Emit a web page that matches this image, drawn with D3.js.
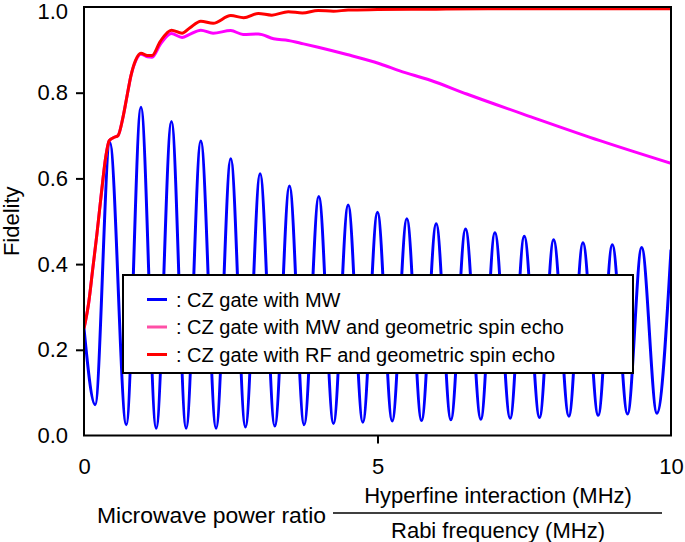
<!DOCTYPE html>
<html>
<head>
<meta charset="utf-8">
<script src="https://cdn.jsdelivr.net/npm/d3@7"></script>
<style>
  html, body { margin: 0; padding: 0; background: #fff; }
  svg { display: block; font-family: "Liberation Sans", Arial, Helvetica, sans-serif; }
</style>
</head>
<body>
<svg id="chart" width="685" height="542"></svg>
<script>
// ---- Data ----
// Blue: CZ gate with MW (extrema of the oscillation)
const blueX = [0, 0.19, 0.44, 0.72, 0.97, 1.23, 1.49, 1.74, 1.99, 2.25, 2.5, 2.75, 3.0, 3.25, 3.5, 3.75, 4.0, 4.25, 4.5, 4.75, 5.0, 5.25, 5.5, 5.75, 6.0, 6.25, 6.5, 6.76, 7.0, 7.26, 7.5, 7.76, 8.0, 8.26, 8.5, 8.76, 9.0, 9.26, 9.5, 9.76, 10.0];
const blueY = [0.25, 0.072, 0.684, 0.025, 0.766, 0.017, 0.733, 0.017, 0.687, 0.017, 0.646, 0.020, 0.611, 0.022, 0.582, 0.025, 0.558, 0.028, 0.538, 0.031, 0.521, 0.034, 0.506, 0.035, 0.494, 0.037, 0.482, 0.038, 0.473, 0.040, 0.465, 0.042, 0.457, 0.045, 0.450, 0.047, 0.445, 0.050, 0.439, 0.052, 0.434];

// Magenta: CZ gate with MW and geometric spin echo
const pinkX = [0, 0.08, 0.15, 0.22, 0.30, 0.37, 0.43, 0.50, 0.58, 0.66, 0.73, 0.80, 0.88, 0.97, 1.08, 1.16, 1.30, 1.49, 1.67, 1.80, 1.99, 2.20, 2.50, 2.71, 2.97, 3.23, 3.48, 3.74, 3.99, 4.48, 5.05, 5.38, 5.90, 6.52, 7.65, 8.79, 10.0];
const pinkY = [0.25, 0.31, 0.39, 0.47, 0.57, 0.65, 0.688, 0.695, 0.700, 0.740, 0.790, 0.840, 0.874, 0.890, 0.884, 0.883, 0.913, 0.938, 0.929, 0.936, 0.946, 0.939, 0.945, 0.936, 0.937, 0.926, 0.922, 0.914, 0.906, 0.889, 0.867, 0.851, 0.829, 0.797, 0.742, 0.688, 0.635];

// Red: CZ gate with RF and geometric spin echo
const redX = [0, 0.08, 0.15, 0.22, 0.30, 0.37, 0.43, 0.50, 0.58, 0.66, 0.73, 0.80, 0.88, 0.97, 1.08, 1.16, 1.30, 1.49, 1.67, 1.80, 1.99, 2.20, 2.50, 2.72, 2.97, 3.20, 3.48, 3.72, 3.99, 4.25, 4.50, 5.0, 6.0, 7.0, 8.0, 9.0, 10.0];
const redY = [0.25, 0.31, 0.39, 0.47, 0.57, 0.65, 0.688, 0.695, 0.700, 0.740, 0.790, 0.840, 0.876, 0.892, 0.887, 0.887, 0.920, 0.946, 0.939, 0.951, 0.967, 0.962, 0.980, 0.975, 0.985, 0.981, 0.989, 0.986, 0.992, 0.990, 0.993, 0.994, 0.995, 0.996, 0.996, 0.996, 0.996];

const xTicks = [0, 5, 10];
const xTickLabels = ["0", "5", "10"];
const yTicks = [0.0, 0.2, 0.4, 0.6, 0.8, 1.0];
const yTickLabels = ["0.0", "0.2", "0.4", "0.6", "0.8", "1.0"];

const seriesNames = [": CZ gate with MW", ": CZ gate with MW and geometric spin echo", ": CZ gate with RF and geometric spin echo"];
const seriesColors = ["#0000ff", "#ff00ff", "#ff0000"];
const legendColors = ["#0000ff", "#ff4fa6", "#ff0000"];

// ---- Layout ----
const svg = d3.select("#chart");
const L = 84, R = 671, T = 7, B = 435.5;
const FS = 22;
const x = d3.scaleLinear().domain([0, 10]).range([L, R]);
const y = d3.scaleLinear().domain([0, 1]).range([B, T]);

svg.append("defs").append("clipPath").attr("id", "plotclip")
  .append("rect").attr("x", L).attr("y", T - 3).attr("width", R - L).attr("height", B - T + 3);

const line = d3.line().x(d => x(d[0])).y(d => y(d[1])).curve(d3.curveMonotoneX);
const zip = (a, b) => a.map((v, i) => [v, b[i]]);

const plot = svg.append("g").attr("clip-path", "url(#plotclip)");
plot.append("path").datum(zip(blueX, blueY)).attr("d", line)
  .attr("fill", "none").attr("stroke", seriesColors[0]).attr("stroke-width", 3);
plot.append("path").datum(zip(pinkX, pinkY)).attr("d", line)
  .attr("fill", "none").attr("stroke", seriesColors[1]).attr("stroke-width", 3);
plot.append("path").datum(zip(redX, redY)).attr("d", line)
  .attr("fill", "none").attr("stroke", seriesColors[2]).attr("stroke-width", 3);

// Frame
svg.append("rect").attr("x", L).attr("y", T).attr("width", R - L).attr("height", B - T)
  .attr("fill", "none").attr("stroke", "#000").attr("stroke-width", 2);

// Axes
const yAxis = d3.axisLeft(y).tickValues(yTicks).tickFormat((d, i) => yTickLabels[i])
  .tickSizeInner(8).tickSizeOuter(0).tickPadding(8);
const gy = svg.append("g").attr("transform", `translate(${L},0)`).call(yAxis);
gy.select(".domain").remove();
gy.selectAll(".tick line").attr("stroke", "#000").attr("stroke-width", 2)
  .attr("display", d => (d === 0 || d === 1) ? "none" : null);
gy.selectAll(".tick text").attr("font-size", FS).attr("fill", "#000")
  .attr("font-family", "'Liberation Sans', Arial, sans-serif")
  .attr("y", d => d === 1 ? 4 : 0);

const xAxis = d3.axisBottom(x).tickValues(xTicks).tickFormat((d, i) => xTickLabels[i])
  .tickSizeInner(8).tickSizeOuter(0).tickPadding(15);
const gx = svg.append("g").attr("transform", `translate(0,${B})`).call(xAxis);
gx.select(".domain").remove();
gx.selectAll(".tick line").attr("stroke", "#000").attr("stroke-width", 2)
  .attr("display", d => (d === 0 || d === 10) ? "none" : null);
gx.selectAll(".tick text").attr("font-size", FS).attr("fill", "#000")
  .attr("font-family", "'Liberation Sans', Arial, sans-serif");

// Y title
svg.append("text").attr("transform", `translate(19,${(T + B) / 2}) rotate(-90)`)
  .attr("text-anchor", "middle").attr("font-size", FS).attr("fill", "#000").text("Fidelity");

// X title with fraction
svg.append("text").attr("x", 97).attr("y", 523).attr("font-size", FS).attr("fill", "#000")
  .attr("textLength", 229).attr("lengthAdjust", "spacingAndGlyphs")
  .text("Microwave power ratio");
svg.append("text").attr("x", 498).attr("y", 503).attr("text-anchor", "middle")
  .attr("font-size", FS).attr("fill", "#000").text("Hyperfine interaction (MHz)");
svg.append("line").attr("x1", 333).attr("x2", 662).attr("y1", 513).attr("y2", 513)
  .attr("stroke", "#000").attr("stroke-width", 1.5);
svg.append("text").attr("x", 498).attr("y", 538).attr("text-anchor", "middle")
  .attr("font-size", FS).attr("fill", "#000").text("Rabi frequency (MHz)");

// Legend
const lg = svg.append("g");
lg.append("rect").attr("x", 123).attr("y", 275).attr("width", 510).attr("height", 98)
  .attr("fill", "#fff").attr("stroke", "#000").attr("stroke-width", 2);
seriesNames.forEach((name, i) => {
  const yy = 299.5 + i * 27.5;
  lg.append("line").attr("x1", 147).attr("x2", 167).attr("y1", yy).attr("y2", yy)
    .attr("stroke", legendColors[i]).attr("stroke-width", 3);
  lg.append("text").attr("x", 176).attr("y", yy + 7).attr("font-size", 20)
    .attr("fill", "#000").text(name);
});
</script>
</body>
</html>
